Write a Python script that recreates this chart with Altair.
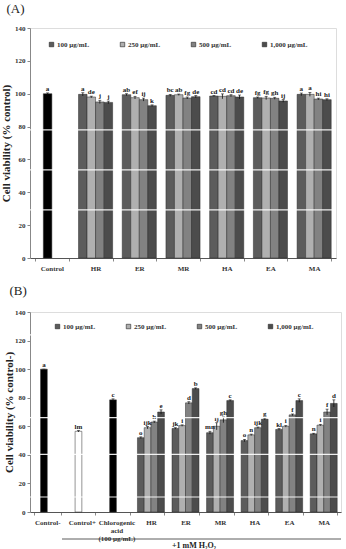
import altair as alt
import pandas as pd

FONT = "Liberation Serif"

doses = ["100 μg/mL", "250 μg/mL", "500 μg/mL", "1,000 μg/mL"]
dose_colors = ["#5c5c5c", "#b0b0b0", "#828282", "#4c4c4c"]
extracts = ["HR", "ER", "MR", "HA", "EA", "MA"]

# ---- (A) cytotoxicity: cell viability (% control) ----
a_control = 100.0
a_control_err = 0.5
a_control_label = "a"

a_values = {
    "HR": [99.6, 98.0, 95.0, 94.7],
    "ER": [99.4, 97.6, 96.4, 92.7],
    "MR": [99.0, 99.4, 97.4, 98.2],
    "HA": [98.6, 98.4, 98.8, 98.0],
    "EA": [97.6, 97.4, 97.2, 95.6],
    "MA": [99.6, 99.6, 96.8, 96.4],
}
a_errors = {
    "HR": [1.0, 0.5, 1.0, 0.8],
    "ER": [0.6, 0.8, 0.9, 0.5],
    "MR": [0.6, 0.4, 0.6, 0.7],
    "HA": [0.3, 1.5, 0.6, 1.2],
    "EA": [0.4, 1.0, 0.6, 0.8],
    "MA": [0.8, 1.2, 0.5, 0.5],
}
a_letters = {
    "HR": ["a", "de", "j", "j"],
    "ER": ["ab", "ef", "ij", "k"],
    "MR": ["bc", "ab", "fg", "de"],
    "HA": ["cd", "cd", "cd", "de"],
    "EA": ["fg", "fg", "gh", "ij"],
    "MA": ["a", "a", "hi", "hi"],
}

# ---- (B) protection against 1 mM H2O2: cell viability (% control-) ----
b_refs = ["Control-", "Control+", "Chlorogenic acid (100 μg/mL)"]
b_ref_values = [100.0, 56.5, 78.5]
b_ref_errors = [0.0, 0.5, 0.7]
b_ref_letters = ["a", "lm", "c"]
b_ref_fills = ["black", "white", "black"]

b_values = {
    "HR": [52.0, 59.0, 63.0, 70.0],
    "ER": [58.5, 60.5, 76.4, 86.4],
    "MR": [55.5, 60.0, 64.5, 78.0],
    "HA": [50.0, 54.0, 59.0, 65.0],
    "EA": [57.8, 60.0, 68.0, 78.0],
    "MA": [54.7, 60.8, 70.0, 76.0],
}
b_errors = {
    "HR": [0.6, 0.8, 0.6, 1.5],
    "ER": [0.5, 0.5, 0.8, 0.5],
    "MR": [1.0, 2.5, 2.0, 0.5],
    "HA": [0.8, 0.5, 0.5, 0.6],
    "EA": [0.6, 0.6, 0.6, 1.2],
    "MA": [0.4, 0.5, 2.0, 2.5],
}
b_letters = {
    "HR": ["o", "ijk", "h", "e"],
    "ER": ["jk", "i", "d", "b"],
    "MR": ["mn", "ij", "gh", "c"],
    "HA": ["o", "n", "ijk", "g"],
    "EA": ["kl", "i", "f", "c"],
    "MA": ["n", "i", "f", "d"],
}

# faint white streaks running across each plot
a_streaks = [78, 53.6, 29.3]
b_streaks = [124, 66, 40.3, 10.5]

y_ticks = [0, 20, 40, 60, 80, 100, 120, 140]

fill_domain = doses + ["black", "white"]
fill_range = dose_colors + ["#000000", "#ffffff"]


def rows(refs, extract_values, extract_errors, extract_letters):
    out = []
    for cat, val, err, lab, fill in refs:
        # reference bars sit in the second slot of their group
        out.append(dict(cat=cat, slot=doses[1], value=val, err=err, label=lab, fill=fill))
    for ex in extracts:
        for i, d in enumerate(doses):
            out.append(dict(cat=ex, slot=d, value=extract_values[ex][i],
                            err=extract_errors[ex][i], label=extract_letters[ex][i], fill=d))
    df = pd.DataFrame(out)
    df["lo"] = df["value"] - df["err"]
    df["hi"] = df["value"] + df["err"]
    return df


df_a = rows([("Control", a_control, a_control_err, a_control_label, "black")],
            a_values, a_errors, a_letters)
df_b = rows(list(zip(b_refs, b_ref_values, b_ref_errors, b_ref_letters, b_ref_fills)),
            b_values, b_errors, b_letters)


def panel(df, cats, ytitle, letter, width, height, legend_x, legend_y, streaks,
          label_expr="datum.label", y_title_pad=4, title_offset=8):
    x_axis = alt.Axis(title=None, labelAngle=0, tickBand="extent", tickSize=3,
                      labelFont=FONT, labelFontWeight="bold", labelFontSize=7,
                      labelColor="#333", labelPadding=3, domainColor="#555",
                      tickColor="#888", labelExpr=label_expr, labelLineHeight=8)
    x = alt.X("cat:N", sort=cats, axis=x_axis,
              scale=alt.Scale(domain=cats, paddingInner=0.22, paddingOuter=0.11))
    xo = alt.XOffset("slot:N", sort=doses,
                     scale=alt.Scale(domain=doses, paddingInner=0, paddingOuter=0))
    y_scale = alt.Scale(domain=[0, 140], nice=False)
    y_axis = alt.Axis(values=y_ticks, title=ytitle, grid=False,
                      tickSize=3, tickColor="#888", domainColor="#888",
                      labelOverlap=False,
                      labelFont=FONT, labelFontWeight="bold", labelFontSize=7,
                      labelColor="#333", labelPadding=2,
                      titleFont=FONT, titleFontWeight="bold", titleFontSize=11,
                      titleColor="#222", titlePadding=y_title_pad)

    def yq(field):
        return alt.Y(field, type="quantitative", scale=y_scale, axis=y_axis, title=ytitle)

    base = alt.Chart(df).encode(x=x, xOffset=xo)

    bars = base.mark_bar(stroke="#2a2a2a", strokeWidth=0.5).encode(
        y=yq("value"),
        color=alt.Color(
            "fill:N",
            scale=alt.Scale(domain=fill_domain, range=fill_range),
            legend=alt.Legend(
                values=doses, title=None, orient="none", direction="horizontal",
                columns=4, gridAlign="all", columnPadding=24,
                legendX=legend_x, legendY=legend_y, padding=0,
                symbolType="square", symbolSize=20, symbolStrokeColor="#222",
                symbolStrokeWidth=0.6, symbolOpacity=1, labelFont=FONT,
                labelFontWeight="bold", labelFontSize=7, labelColor="#333",
                labelOffset=2,
            ),
        ),
    )
    whisker = base.mark_rule(color="#111", strokeWidth=0.8).encode(
        y=yq("lo"), y2="hi:Q")
    caps = base.mark_tick(color="#111", size=3, thickness=0.8).encode(y=yq("hi"))
    letters = base.mark_text(baseline="bottom", dy=-1, font=FONT, fontWeight="bold",
                             fontSize=7, color="#222").encode(
        y=yq("hi"), text="label:N")
    streak = alt.Chart(pd.DataFrame({"v": streaks})).mark_rule(
        color="white", strokeWidth=1.2, opacity=0.9).encode(y=yq("v"))

    return alt.layer(bars, whisker, caps, letters, streak).properties(
        width=width, height=height,
        title=alt.TitleParams(letter, anchor="start", frame="bounds", font=FONT,
                              fontSize=13, fontWeight="normal", color="#222",
                              offset=title_offset, dx=6),
    )


cats_a = ["Control"] + extracts
cats_b = b_refs + extracts

chart_a = panel(df_a, cats_a, "Cell viability (% control)", "(A)", 306, 230,
                18, 13, a_streaks, y_title_pad=3, title_offset=8)

chem_expr = ("datum.label == 'Chlorogenic acid (100 μg/mL)' ? "
             "['Chlorogenic', 'acid', '(100 μg/mL)'] : datum.label")
chart_b_core = panel(df_b, cats_b, "Cell viability (% control-)", "(B)", 311, 200,
                     24, 11, b_streaks, label_expr=chem_expr, y_title_pad=0,
                     title_offset=10)

# bracket under the treated groups
bracket = alt.Chart(pd.DataFrame({"t": ["+1 mM H₂O₂"]})).mark_rule(
    color="#333", strokeWidth=0.8).encode(
    x=alt.value(32), x2=alt.value(311), y=alt.value(227))
bracket_text = alt.Chart(pd.DataFrame({"t": ["+1 mM H₂O₂"]})).mark_text(
    font=FONT, fontWeight="bold", fontSize=8, color="#222", baseline="top").encode(
    x=alt.value(164), y=alt.value(230), text="t:N")

chart_b = alt.layer(chart_b_core, bracket, bracket_text)

chart = alt.vconcat(chart_a, chart_b, spacing=12).resolve_scale(
    color="independent", x="independent", y="independent", xOffset="independent"
).resolve_legend(color="independent").properties(
    padding={"left": 0, "top": 2, "right": 2, "bottom": 0}
).configure_view(stroke="#999", strokeWidth=1).configure_axisY(
    labelOverlap=False
).configure(background="white")

chart.save("out.html", embed_options={"renderer": "svg", "actions": False})
